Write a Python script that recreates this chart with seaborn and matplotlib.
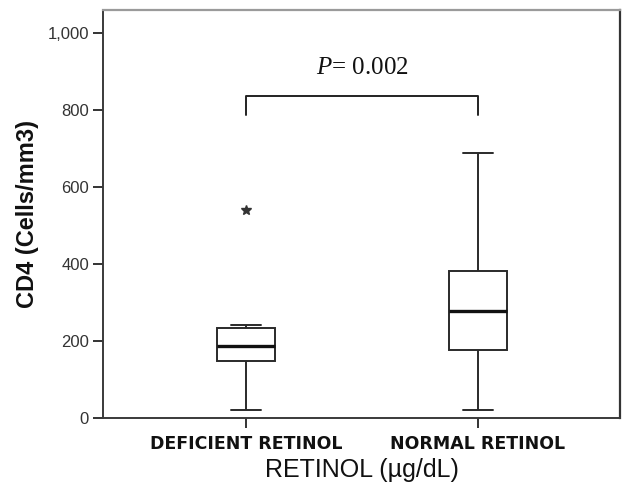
import matplotlib
matplotlib.use("Agg")
import matplotlib.pyplot as plt
import seaborn as sns
import pandas as pd

# ---- data ----
categories = ["DEFICIENT RETINOL", "NORMAL RETINOL"]
deficient_values = [21, 120, 149, 170, 187, 210, 234, 241, 540]
normal_values = [21, 120, 177, 230, 278, 330, 382, 500, 689]
y_ticks = [0, 200, 400, 600, 800, 1000]
y_tick_labels = ["0", "200", "400", "600", "800", "1,000"]
bracket_low, bracket_high = 787, 836
p_text_y = 909
p_label = "$P$= 0.002"

df = pd.DataFrame({
    "group": [categories[0]] * len(deficient_values) + [categories[1]] * len(normal_values),
    "cd4": deficient_values + normal_values,
})

sns.set_theme(style="white")
plt.rcParams["font.family"] = ["Liberation Sans", "DejaVu Sans"]
plt.rcParams["mathtext.fontset"] = "custom"
plt.rcParams["mathtext.it"] = "Liberation Serif:italic"
plt.rcParams["mathtext.rm"] = "Liberation Serif"

fig = plt.figure(figsize=(6.22, 4.86), dpi=100)
ax = fig.add_axes([0.1656, 0.1399, 0.8312, 0.8395])

edge = "#2a2a2a"
sns.boxplot(
    data=df, x="group", y="cd4", order=categories, ax=ax,
    width=0.253, color="white", saturation=1, linecolor=edge, linewidth=1.4,
    whis=2.0,
    flierprops=dict(marker="*", markersize=7.5, markerfacecolor="#333333",
                    markeredgecolor="#333333"),
    medianprops=dict(color="#111111", linewidth=2.4),
)

ax.set_xlim(-0.616, 1.612)
ax.set_ylim(0, 1060)
ax.set_yticks(y_ticks)
ax.set_yticklabels(y_tick_labels)

# significance bracket
ax.plot([0, 0, 1, 1], [bracket_low, bracket_high, bracket_high, bracket_low],
        color="#222222", linewidth=1.4)
ax.text(0.5, p_text_y, p_label, ha="center", va="center", fontsize=18,
        family="Liberation Serif", color="#111111")

# spines
for side in ["left", "bottom"]:
    ax.spines[side].set_color("#3a3a3a")
    ax.spines[side].set_linewidth(1.4)
ax.spines["right"].set_color("#333333")
ax.spines["right"].set_linewidth(1.6)
ax.spines["top"].set_color("#9a9a9a")
ax.spines["top"].set_linewidth(1.6)

ax.tick_params(axis="y", which="major", left=True, length=7, width=1.4,
               color="#333333", labelsize=12, labelcolor="#333333", pad=3)
ax.tick_params(axis="x", which="major", bottom=True, length=7, width=1.4,
               color="#333333", pad=5)
for lab in ax.get_xticklabels():
    lab.set_family("DejaVu Sans")
    lab.set_fontweight("bold")
    lab.set_fontsize(12.5)
    lab.set_color("#111111")

ax.set_xlabel("RETINOL (µg/dL)", fontsize=18, color="#111111", labelpad=4)
ax.set_ylabel("CD4 (Cells/mm3)", fontsize=17, fontweight="bold", color="#111111",
              labelpad=6)

fig.savefig("out.png", dpi=100)
